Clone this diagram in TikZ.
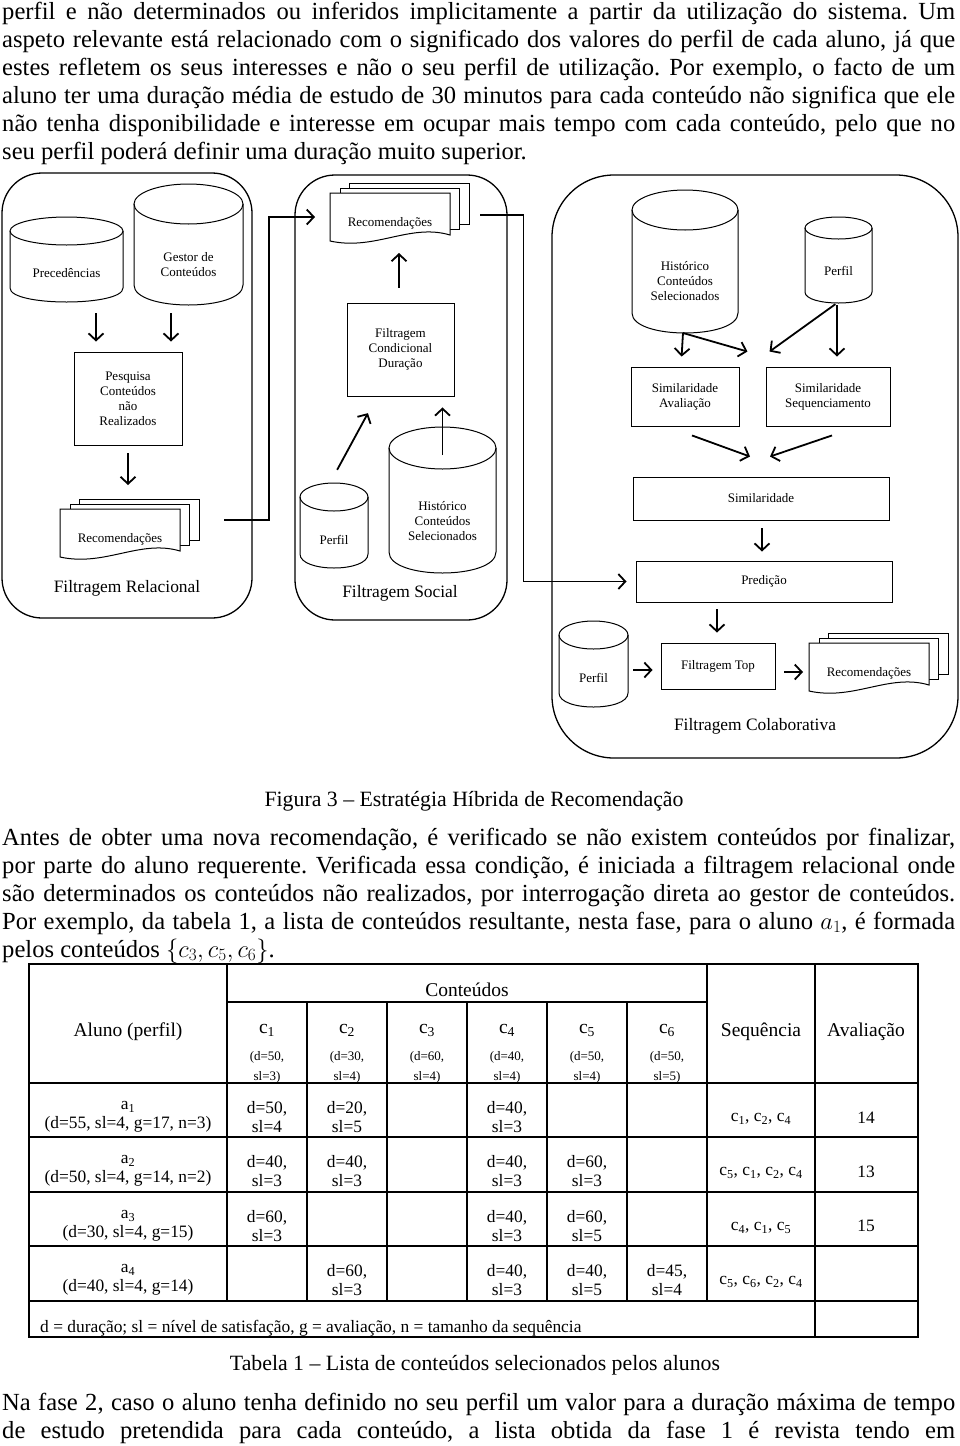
\RequirePackage{fix-cm}
\documentclass[tikz,border=0pt]{standalone}
\usepackage{fontspec}
\setmainfont{Liberation Serif}
\usetikzlibrary{
    arrows.meta
}
\frenchspacing

% database drum: name, x, y, width, height, lid, text
\newcommand{\dbdrum}[7]{%
  \draw[drumline] (#2-#4/2,#3-#5/2+#6) -- (#2-#4/2,#3+#5/2-#6)
    .. controls (#2-#4/2,#3+#5/2+#6/3) and (#2+#4/2,#3+#5/2+#6/3) .. (#2+#4/2,#3+#5/2-#6)
    -- (#2+#4/2,#3-#5/2+#6);
  \draw[drumline] (#2,#3-#5/2+#6) ellipse [x radius=#4pt/2, y radius=#6pt];
  \node[hidden, minimum width=#4pt, minimum height=#5pt,
        label={[smalltext, yshift=-#6pt]center:{#7}}] (#1) at (#2,#3) {};
}
% stack of documents: name, left, top, text
\newcommand{\paperstack}[4]{%
  \draw[sheet] (#2+19,#3-10) rectangle (#2+139,#3+31);
  \draw[sheet] (#2+10,#3-5) rectangle (#2+129,#3+36);
  \draw[sheet] (#2,#3) -- (#2+120,#3) -- (#2+120,#3+42)
    .. controls (#2+80,#3+30) and (#2+45,#3+58) .. (#2,#3+48) -- cycle;
  \node[hidden, minimum width=120pt, minimum height=48pt,
        label={[smalltext, yshift=-6pt]center:{#4}}] (#1) at (#2+60,#3+24) {};
}

\begin{document}
\begin{tikzpicture}[x=1pt, y=-1pt,
    hidden/.style = {inner sep=0pt, outer sep=0pt},
    smalltext/.style = {font=\fontsize{13}{15}\selectfont, align=center},
    procbox/.style = {draw, line width=0.9pt, inner sep=2pt, smalltext},
    group/.style = {draw, line width=1.3pt, inner sep=0pt},
    grouplabel/.style = {font=\fontsize{17.4}{20}\selectfont},
    drumline/.style = {line width=1pt},
    sheet/.style = {draw, fill=white, line width=1pt},
    flow/.style = {line width=1.8pt, -{Straight Barb[length=7pt, width=15pt]}},
    bodyline/.style = {anchor=base west, inner sep=0pt, font=\fontsize{24.6}{28}\selectfont},
    figcaption/.style = {anchor=base, inner sep=0pt, font=\fontsize{21.8}{26}\selectfont},
    tabhead/.style = {font=\fontsize{19.5}{22}\selectfont, inner sep=0pt},
    tabcell/.style = {font=\fontsize{17.4}{19}\selectfont, align=center, inner sep=0pt},
    tabsmall/.style = {font=\fontsize{13}{20}\selectfont, align=center, inner sep=0pt},
    tabrule/.style = {line width=1.2pt}
]
\useasboundingbox (0,0) rectangle (960,1446);

% text above the figure
\foreach \t [count=\k] in {
    {perfil e não determinados ou inferidos implicitamente a partir da utilização do sistema. Um},
    {aspeto relevante está relacionado com o significado dos valores do perfil de cada aluno, já que},
    {estes refletem os seus interesses e não o seu perfil de utilização. Por exemplo, o facto de um},
    {aluno ter uma duração média de estudo de 30 minutos para cada conteúdo não significa que ele},
    {não tenha disponibilidade e interesse em ocupar mais tempo com cada conteúdo, pelo que no}}
  \node[bodyline] (intro\k) at (2,19+28*\k-28) {\makebox[953pt][s]{\t}};
\node[bodyline] (intro6) at (2,159) {seu perfil poderá definir uma duração muito superior.};

% the three filtering groups
\node[group, rounded corners=40pt, minimum width=250pt, minimum height=445pt] (rel) at (127,395.5) {};
\node[group, rounded corners=40pt, minimum width=212pt, minimum height=445pt] (soc) at (401,397.5) {};
\node[group, rounded corners=62pt, minimum width=406pt, minimum height=583pt] (col) at (755,466.5) {};
\node[grouplabel] (rellab) at (127,588) {Filtragem Relacional};
\node[grouplabel] (soclab) at (400,593) {Filtragem Social};
\node[grouplabel] (collab) at (755,726) {Filtragem Colaborativa};

% relacional
\dbdrum{prec}{66.5}{259.5}{113}{85}{14}{Precedências}
\dbdrum{gest}{188.5}{244.5}{109}{121}{20}{Gestor de\\Conteúdos}
\node[procbox, minimum width=108pt, minimum height=93pt] (pesq) at (128,398.5) {Pesquisa\\Conteúdos\\não\\Realizados};
\paperstack{relrec}{60}{509}{Recomendações}

% social
\paperstack{socrec}{330}{193}{Recomendações}
\node[procbox, minimum width=107pt, minimum height=93pt] (cond) at (400.5,349.5) {Filtragem\\Condicional\\Duração};
\dbdrum{socperf}{334}{525.5}{68}{85}{14}{Perfil}
\dbdrum{sochist}{442.5}{500}{107}{146}{21}{Histórico\\Conteúdos\\Selecionados}

% colaborativa
\dbdrum{colhist}{685}{261.5}{106}{143}{20}{Histórico\\Conteúdos\\Selecionados}
\dbdrum{colperf}{838.5}{260}{67}{86}{11}{Perfil}
\node[procbox, minimum width=108pt, minimum height=59pt] (simaval) at (685,396.5) {Similaridade\\Avaliação};
\node[procbox, minimum width=124pt, minimum height=59pt] (simseq) at (828,396.5) {Similaridade\\Sequenciamento};
\node[procbox, minimum width=256pt, minimum height=43pt] (sim) at (761,498.5) {Similaridade};
\node[procbox, minimum width=256pt, minimum height=41pt] (pred) at (764,581.5) {Predição};
\dbdrum{topperf}{593.5}{664}{69}{86}{14}{Perfil}
\node[procbox, minimum width=114pt, minimum height=46pt] (ftop) at (718,666) {Filtragem Top};
\paperstack{colrec}{809}{643}{Recomendações}

% arrows inside the groups
\draw[flow, shorten <=11pt, shorten >=10pt] ([xshift=29.5pt]prec.south) -- ([xshift=-32pt]pesq.north);
\draw[flow, shorten <=8pt, shorten >=10pt] ([xshift=-17.5pt]gest.south) -- ([xshift=43pt]pesq.north);
\draw[flow, shorten <=8pt, shorten >=24pt] (pesq.south) -- ([xshift=8pt]relrec.north);

\draw[flow, shorten <=15pt, shorten >=12pt] ([xshift=-1.5pt]cond.north) -- ([xshift=9pt]socrec.south);
\draw[flow, shorten <=15pt, shorten >=19pt] ([xshift=-4pt]socperf.north) -- ([xshift=-23.5pt]cond.south);
\draw[flow, shorten >=11pt] ([yshift=-28pt]sochist.north) -- ([xshift=42pt]cond.south);

\draw[flow, shorten >=10pt] ([xshift=-2pt]colhist.south) -- ([xshift=-4pt]simaval.north);
\draw[flow] ([xshift=-2pt]colhist.south) -- ([shift={(8pt,15pt)}]simaval.north east);
\draw[flow, shorten <=2pt] ([xshift=-1.5pt]colperf.south) -- ([shift={(4pt,15pt)}]simseq.north west);
\draw[flow, shorten <=2pt, shorten >=10pt] ([xshift=-1.5pt]colperf.south) -- ([xshift=9pt]simseq.north);
\draw[flow] ([shift={(7pt,-9pt)}]simaval.south) -- ([shift={(-11pt,20pt)}]sim.north);
\draw[flow] ([shift={(4pt,-9pt)}]simseq.south) -- ([shift={(9pt,20pt)}]sim.north);
\draw[flow, shorten <=8pt, shorten >=9pt] ([xshift=1pt]sim.south) -- ([xshift=-2pt]pred.north);
\draw[flow, shorten <=7pt, shorten >=10pt] ([xshift=-47pt]pred.south) -- ([xshift=-1pt]ftop.north);
\draw[flow, shorten <=5pt, shorten >=8pt] ([yshift=-6pt]topperf.east) -- ([yshift=-4pt]ftop.west);
\draw[flow, shorten <=9pt, shorten >=6pt] ([yshift=-6pt]ftop.east) -- ([yshift=-5pt]colrec.west);

% links between the groups
\coordinate (relout) at (224,520);
\coordinate (socout) at (480,215);
\draw[flow, shorten >=15pt] (relout) -| ([xshift=-61pt]socrec.west) -- (socrec.west);
\draw[flow, shorten >=9pt] (socout) -| ([xshift=-112pt]pred.west) -- (pred.west);

\node[figcaption] (figcap) at (474,806) {Figura 3 – Estratégia Híbrida de Recomendação};

% text between figure and table
\foreach \t [count=\k] in {
    {Antes de obter uma nova recomendação, é verificado se não existem conteúdos por finalizar,},
    {por parte do aluno requerente. Verificada essa condição, é iniciada a filtragem relacional onde},
    {são determinados os conteúdos não realizados, por interrogação direta ao gestor de conteúdos.},
    {Por exemplo, da tabela 1, a lista de conteúdos resultante, nesta fase, para o aluno $a_1$, é formada}}
  \node[bodyline] (mid\k) at (2,845+28*\k-28) {\makebox[953pt][s]{\t}};
\node[bodyline] (mid5) at (2,957) {pelos conteúdos $\{c_3, c_5, c_6\}$.};

% table
\draw[tabrule] (29,964) rectangle (918,1337);
\draw[tabrule] (227,1002) -- (707,1002);
\foreach \y in {1083,1137,1192,1246,1301}
  \draw[tabrule] (29,\y) -- (918,\y);
\foreach \x in {227,707}
  \draw[tabrule] (\x,964) -- (\x,1301);
\foreach \x in {307,387,467,547,627}
  \draw[tabrule] (\x,1002) -- (\x,1301);
\draw[tabrule] (815,964) -- (815,1337);

\node[tabhead] (aluno) at (128,1032) {Aluno (perfil)};
\node[tabhead] (conts) at (467,990) {Conteúdos};
\node[tabhead] (seqhead) at (761,1032) {Sequência};
\node[tabhead] (avalhead) at (866,1032) {Avaliação};
\foreach \i/\d/\s in {1/50/3, 2/30/4, 3/60/4, 4/40/4, 5/50/4, 6/50/5} {
  \node[tabhead] (c\i) at (187+80*\i,1030) {c\textsubscript{\i}};
  \node[tabsmall] (cp\i) at (187+80*\i,1067) {(d=\d,\\sl=\s)};
}

\node[tabcell] (stu1) at (128,1117) {a\textsubscript{1}\\(d=55, sl=4, g=17, n=3)};
\node[tabcell] (stu2) at (128,1171) {a\textsubscript{2}\\(d=50, sl=4, g=14, n=2)};
\node[tabcell] (stu3) at (128,1226) {a\textsubscript{3}\\(d=30, sl=4, g=15)};
\node[tabcell] (stu4) at (128,1280) {a\textsubscript{4}\\(d=40, sl=4, g=14)};

\foreach \r/\yt/\cells in {1/1083/{1/50/4,2/20/5,4/40/3},
                          2/1137/{1/40/3,2/40/3,4/40/3,5/60/3},
                          3/1192/{1/60/3,4/40/3,5/60/5},
                          4/1246/{2/60/3,4/40/3,5/40/5,6/45/4}}
  \foreach \c/\d/\s in \cells
    \node[tabcell] (v\r\c) at (187+80*\c,\yt+34) {d=\d,\\sl=\s};

\node[tabcell] (seq1) at (761,1119) {c\textsubscript{1}, c\textsubscript{2}, c\textsubscript{4}};
\node[tabcell] (seq2) at (761,1173) {c\textsubscript{5}, c\textsubscript{1}, c\textsubscript{2}, c\textsubscript{4}};
\node[tabcell] (seq3) at (761,1228) {c\textsubscript{4}, c\textsubscript{1}, c\textsubscript{5}};
\node[tabcell] (seq4) at (761,1282) {c\textsubscript{5}, c\textsubscript{6}, c\textsubscript{2}, c\textsubscript{4}};
\node[tabcell] (aval1) at (866,1118) {14};
\node[tabcell] (aval2) at (866,1172) {13};
\node[tabcell] (aval3) at (866,1226) {15};
\node[tabcell, anchor=west] (legend) at (40,1328) {d = duração; sl = nível de satisfação, g = avaliação, n = tamanho da sequência};

\node[figcaption] (tabcap) at (475,1370) {Tabela 1 – Lista de conteúdos selecionados pelos alunos};

% text below the table
\node[bodyline] (end1) at (2,1410) {\makebox[953pt][s]{Na fase 2, caso o aluno tenha definido no seu perfil um valor para a duração máxima de tempo}};
\node[bodyline] (end2) at (2,1438) {\makebox[953pt][s]{de estudo pretendida para cada conteúdo, a lista obtida da fase 1 é revista tendo em}};

\end{tikzpicture}
\end{document}
